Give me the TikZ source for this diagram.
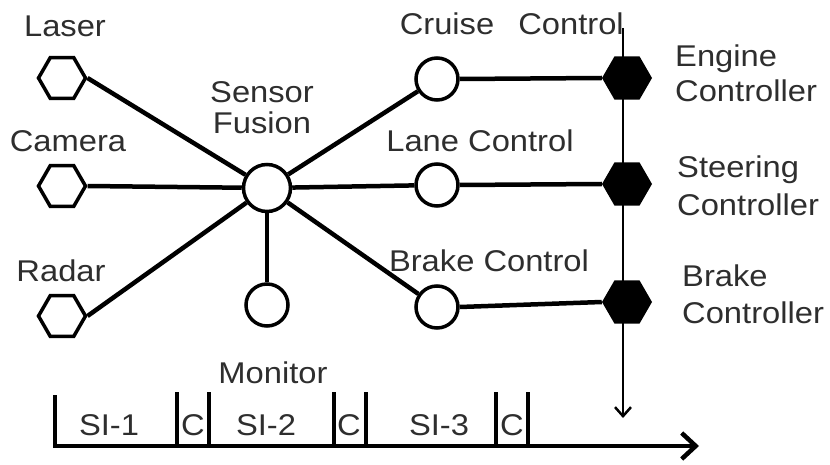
\documentclass[tikz,border=0pt]{standalone}
\usepackage{fontspec}
\setmainfont[FakeStretch=1.09]{Liberation Sans}
\usetikzlibrary{shapes.geometric,arrows.meta}
\begin{document}
\begin{tikzpicture}[x=1pt,y=-1pt,
  lbl/.style={font=\fontsize{30}{35}\selectfont, inner sep=0, text=black!82},
  sensorhex/.style={regular polygon, regular polygon sides=6, draw, line width=3.5pt,
    minimum size=47pt, inner sep=0, fill=white},
  ctrlhex/.style={regular polygon, regular polygon sides=6, fill=black,
    minimum size=50pt, inner sep=0},
  proc/.style={circle, draw, line width=3.5pt, fill=white, minimum size=42pt, inner sep=0},
  link/.style={line width=4.5pt},
  tickmark/.style={line width=3.5pt}]
\useasboundingbox (0,0) rectangle (830,465);

% sensors, processing nodes
\node[sensorhex] (laser)  at (62,78)  {};
\node[sensorhex] (camera) at (62,186) {};
\node[sensorhex] (radar)  at (62,316) {};
\node[proc, minimum size=47pt] (fusion) at (267,188) {};
\node[proc] (cruise)  at (437,79)  {};
\node[proc] (lane)    at (437,185) {};
\node[proc] (brake)   at (437,307) {};
\node[proc] (monitor) at (267,305) {};

% control bus
\coordinate (bustop) at (623,28);
\coordinate (busend) at (623,418);
\draw[line width=2.5pt, -{Straight Barb[length=9pt,width=16pt]}] (bustop) -- (busend);

% actuator controllers
\node[ctrlhex] (engine) at (627,78)  {};
\node[ctrlhex] (steer)  at (627,184) {};
\node[ctrlhex] (brakec) at (627,302) {};

% connections
\draw[link] (laser.east)  -- (fusion);
\draw[link] (camera.east) -- (fusion);
\draw[link] (radar.east)  -- (fusion);
\draw[link] (fusion) -- (monitor);
\draw[link] (fusion) -- (cruise);
\draw[link] (fusion) -- (lane);
\draw[link] (fusion) -- (brake);
\draw[link] (cruise.east) -- (engine.west);
\draw[link] (lane.east)   -- (steer.west);
\draw[link] (brake.east)  -- (brakec.west);

% labels
\node[lbl, anchor=base] (tlaser)  at (65,37)   {Laser};
\node[lbl, anchor=base] (tcamera) at (68,152)  {Camera};
\node[lbl, anchor=base] (tradar)  at (61,281)  {Radar};
\node[lbl, anchor=base] (tsensor) at (262,103) {Sensor};
\node[lbl, anchor=base] (tfusion) at (262,134) {Fusion};
\node[lbl, anchor=base] (tmonitor) at (273,383) {Monitor};
\node[lbl, anchor=base] (tcruise)  at (447,35)  {Cruise};
\node[lbl, anchor=base] (tcontrol) at (571,35)  {Control};
\node[lbl, anchor=base] (tlane)    at (480,152) {Lane Control};
\node[lbl, anchor=base] (tbrake)   at (489,272) {Brake Control};
\node[lbl, anchor=base west] (teng1) at (675,67)  {Engine};
\node[lbl, anchor=base west] (teng2) at (675,102) {Controller};
\node[lbl, anchor=base west] (tste1) at (677,178) {Steering};
\node[lbl, anchor=base west] (tste2) at (677,215) {Controller};
\node[lbl, anchor=base west] (tbrk1) at (682,287) {Brake};
\node[lbl, anchor=base west] (tbrk2) at (682,323) {Controller};

% schedule time line
\coordinate (tstart) at (55,395);
\coordinate (tcorner) at (55,446);
\coordinate (tend) at (699,446);
\draw[line width=4.5pt, line join=miter, -{Straight Barb[length=14pt,width=26pt]}]
  (tstart) -- (tcorner) -- (tend);
\foreach \x in {177,209,334,366,496,528}
  \draw[tickmark] (\x,392) -- (\x,446);
\node[lbl, anchor=base] (si1) at (109,435) {SI-1};
\node[lbl, anchor=base] (c1)  at (193,435) {C};
\node[lbl, anchor=base] (si2) at (266,435) {SI-2};
\node[lbl, anchor=base] (c2)  at (349,435) {C};
\node[lbl, anchor=base] (si3) at (439,435) {SI-3};
\node[lbl, anchor=base] (c3)  at (512,435) {C};
\end{tikzpicture}
\end{document}
